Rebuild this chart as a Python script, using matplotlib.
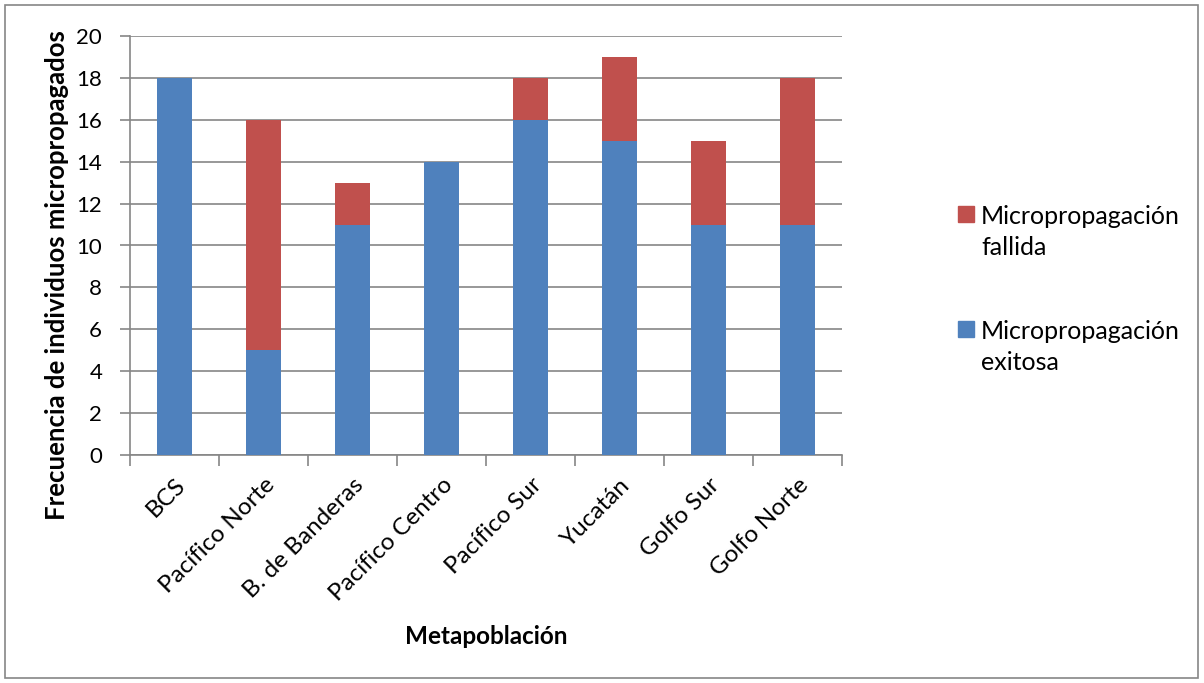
import matplotlib.pyplot as plt
from matplotlib.patches import Rectangle
import numpy as np

plt.rcParams['font.family'] = ['Lato', 'DejaVu Sans']

categories = ['BCS', 'Pacífico Norte', 'B. de Banderas', 'Pacífico Centro',
              'Pacífico Sur', 'Yucatán', 'Golfo Sur', 'Golfo Norte']
exitosa = [18, 5, 11, 14, 16, 15, 11, 11]
fallida = [0, 11, 2, 0, 2, 4, 4, 7]

blue = '#4F81BD'
red = '#C0504D'
grid_c = '#868686'

fig = plt.figure(figsize=(12.04, 6.83), dpi=100)
ax = fig.add_axes([130 / 1204, 1 - 455 / 683, (842 - 130) / 1204, (455 - 36) / 683])

x = np.arange(len(categories))
ax.bar(x, exitosa, width=0.4, color=blue, zorder=3)
ax.bar(x, fallida, width=0.4, bottom=exitosa, color=red, zorder=3)

ax.set_xlim(-0.5, len(categories) - 0.5)
ax.set_ylim(0, 20)
ax.set_yticks(range(0, 21, 2))
ax.yaxis.grid(True, color=grid_c, linewidth=1.2, zorder=0)
ax.set_xticks(x)
ax.set_xticklabels(categories, rotation=45, ha='right', rotation_mode='anchor', fontsize=17.5)
ax.set_xticks(np.arange(-0.5, len(categories)), minor=True)
ax.tick_params(axis='x', which='major', length=0, pad=14)
ax.tick_params(axis='x', which='minor', length=8, color=grid_c, width=1.2)
ax.tick_params(axis='y', length=7, color=grid_c, width=1.2, labelsize=16, pad=13)

for s in ['top', 'right']:
    ax.spines[s].set_visible(False)
for s in ['left', 'bottom']:
    ax.spines[s].set_color(grid_c)
    ax.spines[s].set_linewidth(1.2)

fig.text(57 / 1204, 1 - 275 / 683, 'Frecuencia de individuos micropropagados', fontsize=18.5,
         fontweight='bold', rotation=90, ha='center', va='center')
fig.text(486 / 1204, 1 - 637 / 683, 'Metapoblación', fontsize=17.5, fontweight='bold',
         ha='center', va='center')

# legend drawn by hand so the swatch lines up with the first line of text
entries = [(red, 'Micropropagación\nfallida', 206), (blue, 'Micropropagación\nexitosa', 321)]
for color, label, ytop in entries:
    fig.patches.append(Rectangle((958 / 1204, 1 - (ytop + 16) / 683), 16 / 1204, 16 / 683,
                                 transform=fig.transFigure, color=color))
    fig.text(981 / 1204, 1 - (ytop - 1) / 683, label, fontsize=18, va='top', ha='left',
             linespacing=1.4)

fig.patches.append(Rectangle((5 / 1204, 5 / 683), 1193 / 1204, 673 / 683, transform=fig.transFigure,
                             fill=False, edgecolor=grid_c, linewidth=1.2))

fig.savefig('out.png', dpi=100)
